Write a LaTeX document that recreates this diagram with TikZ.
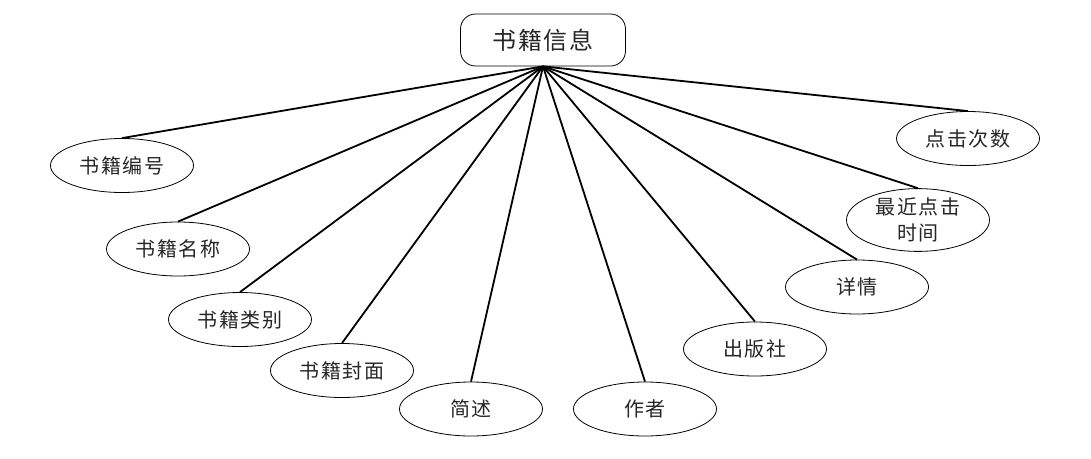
\documentclass[tikz,border=0pt]{standalone}
\usepackage{fontspec}
\newfontfamily\cjk[LetterSpace=8]{Noto Sans CJK SC}
\usetikzlibrary{shapes.geometric}
\begin{document}
\begin{tikzpicture}[x=1pt,y=-1pt,
  attr/.style={ellipse, draw, line width=0.8pt, minimum width=143pt, minimum height=54pt, inner sep=0pt, font=\cjk\fontsize{20}{26}\selectfont, align=center, text=black!85},
  entity/.style={rectangle, rounded corners=15pt, draw, line width=0.8pt, minimum width=165pt, minimum height=52pt, inner sep=0pt, font=\cjk\fontsize{24}{28}\selectfont, text=black!85},
  conn/.style={line width=1.8pt}]
\useasboundingbox (0,0) rectangle (1091,458);
\node[entity] (root) at (543,40) {书籍信息};
\node[attr] (a1) at (122,165.5) {书籍编号};
\node[attr] (a2) at (178,249) {书籍名称};
\node[attr] (a3) at (240,319.5) {书籍类别};
\node[attr] (a4) at (342,370.5) {书籍封面};
\node[attr] (a5) at (471,409) {简述};
\node[attr] (a6) at (645,409) {作者};
\node[attr] (a7) at (755,349) {出版社};
\node[attr] (a8) at (857,287) {详情};
\node[attr] (a9) at (918,220) {最近点击\\时间};
\node[attr] (a10) at (968,138.5) {点击次数};
\foreach \n in {a1,a2,a3,a4,a5,a6,a7,a8,a9,a10}
  \draw[conn] (root.south) -- (\n.north);
\end{tikzpicture}
\end{document}
